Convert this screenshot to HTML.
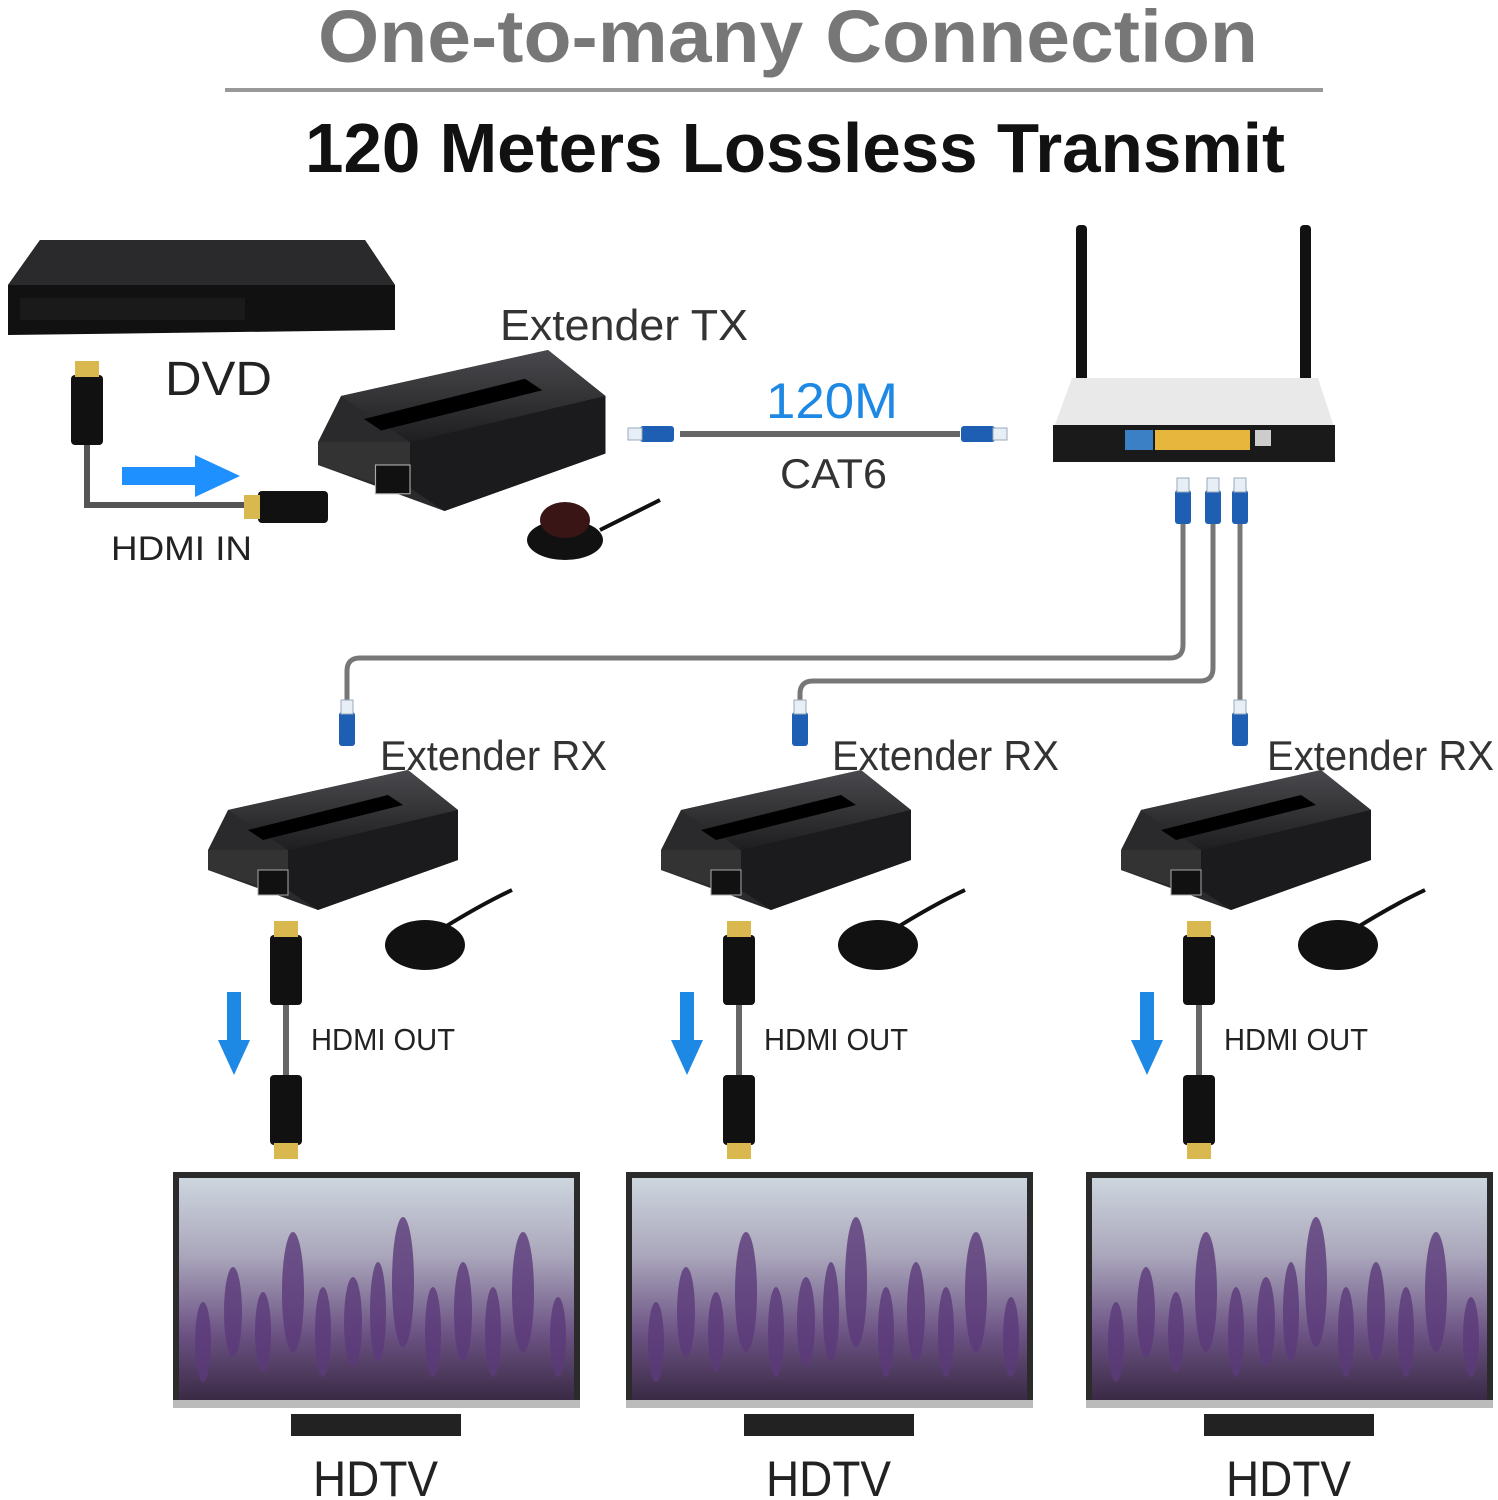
<!DOCTYPE html>
<html><head><meta charset="utf-8"><style>
html,body{margin:0;padding:0;background:#fff;}
svg{display:block;}
text{font-family:"Liberation Sans",sans-serif;}
</style></head><body>
<svg width="1498" height="1500" viewBox="0 0 1498 1500" xmlns="http://www.w3.org/2000/svg">
<defs>
<linearGradient id="scr" x1="0" y1="0" x2="0" y2="1">
<stop offset="0" stop-color="#cdd6de"/><stop offset="0.35" stop-color="#aaa6bb"/>
<stop offset="0.7" stop-color="#6c5384"/><stop offset="1" stop-color="#3a2a45"/></linearGradient>
<linearGradient id="box" x1="0" y1="0" x2="0" y2="1">
<stop offset="0" stop-color="#4a4a4e"/><stop offset="1" stop-color="#1e1e20"/></linearGradient>
<g id="hdmi"><rect x="-16" y="0" width="32" height="70" rx="4" fill="#111"/><rect x="-12" y="-14" width="24" height="16" fill="#d9b850"/></g>
<g id="rj"><rect x="-8" y="0" width="16" height="34" rx="3" fill="#1f5fb3"/><rect x="-6" y="-12" width="12" height="14" fill="#e8eef5" stroke="#9ab" stroke-width="1"/></g>
<g id="ext">
<polygon points="0,80 20,40 200,0 250,40 250,90 110,140 0,100" fill="#2a2a2c"/>
<polygon points="20,40 200,0 250,40 80,80" fill="url(#box)"/>
<polygon points="80,80 250,40 250,90 110,140 80,120" fill="#1b1b1d"/>
<polygon points="0,80 80,80 80,125 0,100" fill="#333"/>
<rect x="50" y="100" width="30" height="25" fill="#111" stroke="#aaa"/>
<polygon points="40,60 180,25 195,35 55,70" fill="#000"/>
</g>
<g id="tv">
<rect x="0" y="0" width="407" height="236" fill="#2b2b2b"/>
<rect x="6" y="6" width="395" height="222" fill="url(#scr)"/>
<g fill="#5b3a7a" opacity="0.8">
<ellipse cx="30" cy="170" rx="8" ry="40"/><ellipse cx="60" cy="140" rx="9" ry="45"/><ellipse cx="90" cy="160" rx="8" ry="40"/>
<ellipse cx="120" cy="120" rx="11" ry="60"/><ellipse cx="150" cy="160" rx="8" ry="45"/><ellipse cx="180" cy="150" rx="9" ry="45"/>
<ellipse cx="205" cy="140" rx="8" ry="50"/><ellipse cx="230" cy="110" rx="11" ry="65"/><ellipse cx="260" cy="160" rx="8" ry="45"/>
<ellipse cx="290" cy="140" rx="9" ry="50"/><ellipse cx="320" cy="160" rx="8" ry="45"/><ellipse cx="350" cy="120" rx="11" ry="60"/><ellipse cx="385" cy="165" rx="8" ry="40"/></g>
<rect x="0" y="228" width="407" height="8" fill="#bbb"/>
<rect x="118" y="242" width="170" height="22" fill="#222"/>
</g>
</defs>

<text x="318" y="62" textLength="940" lengthAdjust="spacingAndGlyphs" font-size="74" font-weight="bold" fill="#777">One-to-many Connection</text>
<rect x="225" y="88" width="1098" height="4" fill="#999"/>
<text x="305" y="172" textLength="980" lengthAdjust="spacingAndGlyphs" font-size="70" font-weight="bold" fill="#111">120 Meters Lossless Transmit</text>

<polygon points="8,285 40,240 365,240 395,285 395,330 8,335" fill="#111"/>
<polygon points="40,240 365,240 395,285 8,285" fill="#2a2a2c"/>
<rect x="20" y="298" width="225" height="22" fill="#1a1a1a"/>
<text x="165" y="395" textLength="107" lengthAdjust="spacingAndGlyphs" font-size="48" fill="#222">DVD</text>

<use href="#hdmi" x="87" y="375"/>
<path d="M87 445 V505 H265" stroke="#555" stroke-width="6" fill="none"/>
<g transform="translate(258,507) rotate(-90)"><use href="#hdmi" x="0" y="0"/></g>
<rect x="122" y="467" width="80" height="18" fill="#1e90ff"/>
<polygon points="195,455 240,476 195,497" fill="#1e90ff"/>
<text x="111" y="560" textLength="141" lengthAdjust="spacingAndGlyphs" font-size="34" fill="#222">HDMI IN</text>

<text x="500" y="340" textLength="248" lengthAdjust="spacingAndGlyphs" font-size="44" fill="#333">Extender TX</text>
<g transform="translate(318,350) scale(1.15)"><use href="#ext"/></g>
<ellipse cx="565" cy="540" rx="38" ry="20" fill="#111"/><ellipse cx="565" cy="520" rx="25" ry="18" fill="#3a1515"/>
<path d="M600 530 Q640 510 660 500" stroke="#111" stroke-width="4" fill="none"/>

<path d="M680 434 H960" stroke="#666" stroke-width="6"/>
<g transform="translate(640,434) rotate(-90)"><use href="#rj"/></g>
<g transform="translate(995,434) rotate(90)"><use href="#rj"/></g>
<text x="766" y="418" textLength="132" lengthAdjust="spacingAndGlyphs" font-size="50" fill="#1e88e5">120M</text>
<text x="780" y="488" textLength="107" lengthAdjust="spacingAndGlyphs" font-size="42" fill="#333">CAT6</text>

<rect x="1076" y="225" width="11" height="175" rx="4" fill="#111"/>
<rect x="1300" y="225" width="11" height="175" rx="4" fill="#111"/>
<polygon points="1072,378 1318,378 1335,430 1335,462 1053,462 1053,430" fill="#e9e9e9"/>
<polygon points="1053,425 1335,425 1335,462 1053,462" fill="#1a1a1a"/>
<rect x="1125" y="430" width="28" height="20" fill="#3b7fc4"/>
<rect x="1155" y="430" width="95" height="20" fill="#e6b73c"/>
<rect x="1255" y="430" width="16" height="16" fill="#ccc"/>

<use href="#rj" x="1183" y="490"/><use href="#rj" x="1213" y="490"/><use href="#rj" x="1240" y="490"/>
<g stroke="#777" stroke-width="5" fill="none">
<path d="M1183 524 V645 Q1183 658 1170 658 H360 Q347 658 347 671 V712"/>
<path d="M1213 524 V668 Q1213 681 1200 681 H813 Q800 681 800 694 V712"/>
<path d="M1240 524 V712"/>
</g>
<use href="#rj" x="347" y="712"/><use href="#rj" x="800" y="712"/><use href="#rj" x="1240" y="712"/>

<text x="380" y="770" textLength="227" lengthAdjust="spacingAndGlyphs" font-size="42" fill="#333">Extender RX</text>
<text x="832" y="770" textLength="227" lengthAdjust="spacingAndGlyphs" font-size="42" fill="#333">Extender RX</text>
<text x="1267" y="770" textLength="227" lengthAdjust="spacingAndGlyphs" font-size="42" fill="#333">Extender RX</text>

<g id="rx">
<g transform="translate(208,770)"><use href="#ext"/></g>
<ellipse cx="425" cy="945" rx="40" ry="25" fill="#111"/>
<path d="M440 930 Q480 905 512 890" stroke="#111" stroke-width="4" fill="none"/>
<use href="#hdmi" x="286" y="935"/>
<rect x="283" y="1005" width="6" height="70" fill="#666"/>
<g transform="translate(286,1145) rotate(180)"><use href="#hdmi"/></g>
<rect x="227" y="992" width="14" height="50" fill="#1e88e5"/>
<polygon points="218,1040 250,1040 234,1075" fill="#1e88e5"/>
<text x="311" y="1050" textLength="144" lengthAdjust="spacingAndGlyphs" font-size="31" fill="#222">HDMI OUT</text>
<g transform="translate(173,1172)"><use href="#tv"/></g>
<text x="313" y="1496" textLength="125" lengthAdjust="spacingAndGlyphs" font-size="50" fill="#222">HDTV</text>
</g>
<use href="#rx" x="453"/>
<use href="#rx" x="913"/>
</svg>
</body></html>
